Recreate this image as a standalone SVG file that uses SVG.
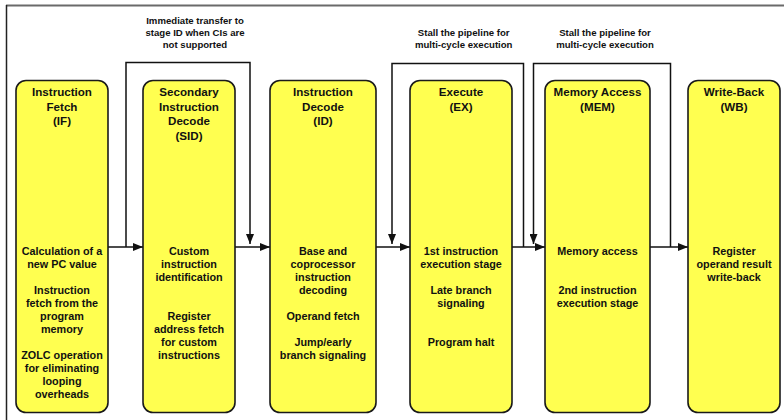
<svg xmlns="http://www.w3.org/2000/svg" width="784" height="420" viewBox="0 0 784 420">
  <style>
    .stage { fill: #ffff50; stroke: #1a1a1a; stroke-width: 1.6; }
    .title { font-family: "Liberation Sans", Arial, sans-serif; font-weight: bold; font-size: 11.6px; fill: #111; text-anchor: middle; }
    .body { font-family: "Liberation Sans", Arial, sans-serif; font-weight: bold; font-size: 10.8px; fill: #111; text-anchor: middle; }
    .note { font-family: "Liberation Sans", Arial, sans-serif; font-weight: bold; font-size: 9.6px; fill: #111; text-anchor: middle; }
    .wire { fill: none; stroke: #111; stroke-width: 1.5; }
  </style>
  <defs>
    <marker id="head" viewBox="0 0 10 8" refX="10" refY="4" markerWidth="10" markerHeight="8" markerUnits="userSpaceOnUse" orient="auto">
      <path d="M0,0 L10,4 L0,8 Z" fill="#111"/>
    </marker>
  </defs>

  <rect width="784" height="420" fill="#ffffff"/>
  <!-- frame edges -->
  <line x1="6" y1="5.5" x2="784" y2="5.5" stroke="#6a6a6a" stroke-width="2"/>
  <line x1="6.5" y1="5" x2="6.5" y2="420" stroke="#222" stroke-width="1.5"/>

  <!-- loop-back notes -->
  <text class="note" x="195" y="24.3">Immediate transfer to</text>
  <text class="note" x="195" y="36.1">stage ID when CIs are</text>
  <text class="note" x="195" y="47.9">not supported</text>
  <text class="note" x="463.7" y="36.1">Stall the pipeline for</text>
  <text class="note" x="463.7" y="47.9">multi-cycle execution</text>
  <text class="note" x="605" y="36.1">Stall the pipeline for</text>
  <text class="note" x="605" y="47.9">multi-cycle execution</text>

  <!-- connectors -->
  <g id="connectors">
    <path class="wire" d="M108,247 H143" marker-end="url(#head)"/>
    <path class="wire" d="M235,247 H270" marker-end="url(#head)"/>
    <path class="wire" d="M376,247 H410" marker-end="url(#head)"/>
    <path class="wire" d="M512,247 H545" marker-end="url(#head)"/>
    <path class="wire" d="M650,247 H688" marker-end="url(#head)"/>
    <path class="wire" d="M126,247 V62.5 H250 V244" marker-end="url(#head)"/>
    <path class="wire" d="M523.5,247 V63.5 H392 V244" marker-end="url(#head)"/>
    <path class="wire" d="M670.5,247 V63.5 H533.5 V244" marker-end="url(#head)"/>
  </g>

  <g id="if">
    <rect class="stage" x="16" y="80.5" width="92" height="332" rx="10"/>
    <text class="title" x="62" y="96">Instruction</text>
    <text class="title" x="62" y="110.5">Fetch</text>
    <text class="title" x="62" y="125">(IF)</text>
    <text class="body" x="62" y="255">Calculation of a</text>
    <text class="body" x="62" y="268">new PC value</text>
    <text class="body" x="62" y="294">Instruction</text>
    <text class="body" x="62" y="307">fetch from the</text>
    <text class="body" x="62" y="320">program</text>
    <text class="body" x="62" y="333">memory</text>
    <text class="body" x="62" y="359">ZOLC operation</text>
    <text class="body" x="62" y="372">for eliminating</text>
    <text class="body" x="62" y="385">looping</text>
    <text class="body" x="62" y="398">overheads</text>
  </g>

  <g id="sid">
    <rect class="stage" x="143" y="80.5" width="92" height="332" rx="10"/>
    <text class="title" x="189" y="96">Secondary</text>
    <text class="title" x="189" y="110.5">Instruction</text>
    <text class="title" x="189" y="125">Decode</text>
    <text class="title" x="189" y="139.5">(SID)</text>
    <text class="body" x="189" y="255">Custom</text>
    <text class="body" x="189" y="268">instruction</text>
    <text class="body" x="189" y="281">identification</text>
    <text class="body" x="189" y="320">Register</text>
    <text class="body" x="189" y="333">address fetch</text>
    <text class="body" x="189" y="346">for custom</text>
    <text class="body" x="189" y="359">instructions</text>
  </g>

  <g id="id">
    <rect class="stage" x="270" y="80.5" width="106" height="332" rx="10"/>
    <text class="title" x="323" y="96">Instruction</text>
    <text class="title" x="323" y="110.5">Decode</text>
    <text class="title" x="323" y="125">(ID)</text>
    <text class="body" x="323" y="255">Base and</text>
    <text class="body" x="323" y="268">coprocessor</text>
    <text class="body" x="323" y="281">instruction</text>
    <text class="body" x="323" y="294">decoding</text>
    <text class="body" x="323" y="320">Operand fetch</text>
    <text class="body" x="323" y="346">Jump/early</text>
    <text class="body" x="323" y="359">branch signaling</text>
  </g>

  <g id="ex">
    <rect class="stage" x="410" y="80.5" width="102" height="332" rx="10"/>
    <text class="title" x="461" y="96">Execute</text>
    <text class="title" x="461" y="110.5">(EX)</text>
    <text class="body" x="461" y="255">1st instruction</text>
    <text class="body" x="461" y="268">execution stage</text>
    <text class="body" x="461" y="294">Late branch</text>
    <text class="body" x="461" y="307">signaling</text>
    <text class="body" x="461" y="346">Program halt</text>
  </g>

  <g id="mem">
    <rect class="stage" x="545" y="80.5" width="105" height="332" rx="10"/>
    <text class="title" x="597.5" y="96">Memory Access</text>
    <text class="title" x="597.5" y="110.5">(MEM)</text>
    <text class="body" x="597.5" y="255">Memory access</text>
    <text class="body" x="597.5" y="294">2nd instruction</text>
    <text class="body" x="597.5" y="307">execution stage</text>
  </g>

  <g id="wb">
    <rect class="stage" x="688" y="80.5" width="92" height="332" rx="10"/>
    <text class="title" x="734" y="96">Write-Back</text>
    <text class="title" x="734" y="110.5">(WB)</text>
    <text class="body" x="734" y="255">Register</text>
    <text class="body" x="734" y="268">operand result</text>
    <text class="body" x="734" y="281">write-back</text>
  </g>
</svg>
